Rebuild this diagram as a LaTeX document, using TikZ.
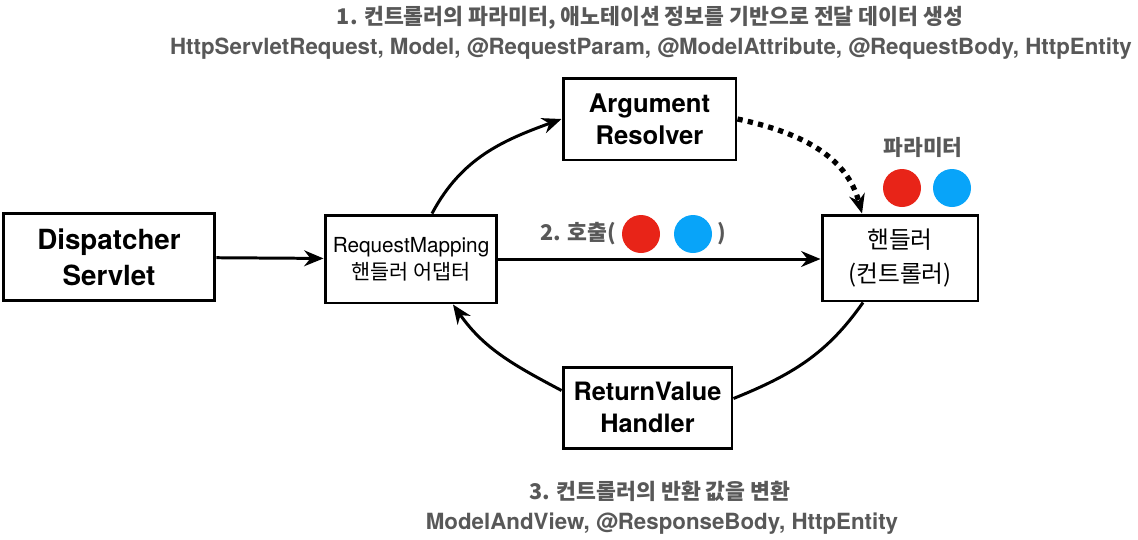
\documentclass[tikz,border=0pt]{standalone}
\usepackage{fontspec}
\setmainfont{TeX Gyre Heros}
\newfontfamily\kr{Noto Sans CJK KR}
\usetikzlibrary{arrows.meta}
\definecolor{txtgray}{RGB}{88,88,88}
\definecolor{dotred}{RGB}{232,36,24}
\definecolor{dotblue}{RGB}{8,164,249}

\begin{document}
\begin{tikzpicture}[x=0.02cm,y=-0.02cm,
  box/.style={draw,line width=1.7pt,align=center,inner sep=0pt},
  flow/.style={line width=1.7pt,-{Stealth[length=11pt,width=9pt]}},
  note/.style={text=txtgray,font=\bfseries},
  dot/.style={circle,minimum size=0.76cm,inner sep=0pt}]
  \def\lw{1.7pt};
  \useasboundingbox (0,0) rectangle (1138,539);
  % boxes
  \node[box,minimum width=4.24cm,minimum height=1.74cm,font=\fontsize{15.8}{20.5}\selectfont\bfseries] (ds) at (109,257) {Dispatcher\\Servlet};
  \node[box,minimum width=3.44cm,minimum height=1.76cm,font=\fontsize{11.8}{15.4}\selectfont] (rm) at (411,259) {RequestMapping\\{\kr 핸들러 어댑터}};
  \node[box,minimum width=3.46cm,minimum height=1.64cm,font=\fontsize{14.6}{18.2}\selectfont\bfseries] (ar) at (649.5,119) {Argument\\Resolver};
  \node[box,minimum width=3.12cm,minimum height=1.72cm,font=\fontsize{13.5}{19}\selectfont\kr] (hd) at (900,258) {핸들러\\(컨트롤러)};
  \node[box,minimum width=3.38cm,minimum height=1.62cm,font=\fontsize{14.4}{18.2}\selectfont\bfseries] (rv) at (647.5,407.5) {ReturnValue\\Handler};
  % texts
  \node[note,font=\fontsize{12.3}{14}\selectfont\kr\bfseries] (t1) at (650,18) {1. 컨트롤러의 파라미터, 애노테이션 정보를 기반으로 전달 데이터 생성};
  \node[note,font=\fontsize{12.7}{14}\selectfont\bfseries] (t2) at (651,49) {HttpServletRequest, Model, @RequestParam, @ModelAttribute, @RequestBody, HttpEntity};
  \node[note,font=\fontsize{12.3}{14}\selectfont\kr\bfseries] (t3) at (660,491) {3. 컨트롤러의 반환 값을 변환};
  \node[note,font=\fontsize{12.7}{14}\selectfont\bfseries] (t4) at (662,524) {ModelAndView, @ResponseBody, HttpEntity};
  \node[note,font=\fontsize{12.2}{14}\selectfont\kr\bfseries] (pm) at (923,147) {파라미터};
  \node[dot,fill=dotred] (p1) at (902,188) {};
  \node[dot,fill=dotblue] (p2) at (952,188) {};
  \node[note,font=\fontsize{12.3}{14}\selectfont\kr\bfseries,anchor=east] (call) at (622,234) {2. 호출(};
  \node[dot,fill=dotred] (c1) at (641,234) {};
  \node[dot,fill=dotblue] (c2) at (693,234) {};
  \node[note,font=\fontsize{12.3}{14}\selectfont\kr\bfseries,anchor=west] (close) at (711,234) {)};
  % arrows
  \draw[flow] (ds) -- (rm);
  \draw[flow] (rm.east) -- (hd.west|-rm.east);
  \draw[flow] ([xshift=0.42cm]rm.north) to[out=62,in=200] (ar.west);
  \draw[flow,line width=3pt,dash pattern=on 3pt off 3pt] (ar.east) to[out=-12,in=105] ([xshift=-0.76cm]hd.north);
  \draw[line width=\lw] ([xshift=-0.74cm]hd.south) to[out=-125,in=22] ([yshift=0.18cm]rv.east);
  \draw[flow] ([yshift=0.34cm]rv.west) to[out=152,in=-55] ([xshift=0.84cm]rm.south);
\end{tikzpicture}
\end{document}
